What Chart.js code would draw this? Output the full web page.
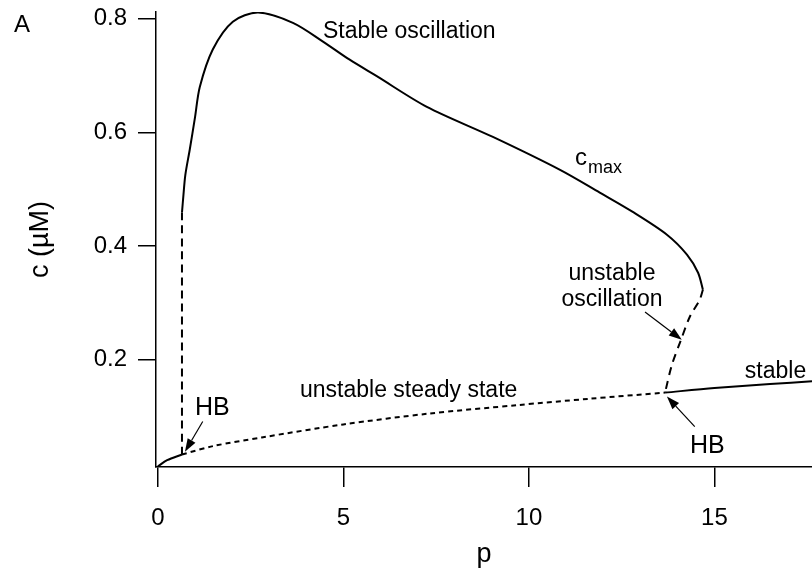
<!DOCTYPE html>
<html>
<head>
<meta charset="utf-8">
<script src="https://cdn.jsdelivr.net/npm/chart.js@4"></script>
<style>
  html, body { margin: 0; padding: 0; background: #fff; }
  #wrap { width: 812px; height: 571px; position: relative; }
</style>
</head>
<body>
<div id="wrap"><canvas id="chart"></canvas></div>
<script>
const FONT = "'Liberation Sans', Arial, Helvetica, sans-serif";

// bifurcation diagram, p on x, c (uM) on y
const lowStableP = [0, 0.25, 0.65];
const lowStableC = [0.012, 0.023, 0.033];

const unstableSteadyP = [0.65, 1.5, 2.8, 5, 7.3, 9.7, 11.6, 13.67];
const unstableSteadyC = [0.033, 0.048, 0.063, 0.086, 0.105, 0.120, 0.131, 0.142];

const highStableP = [13.67, 15, 16.5, 17.63];
const highStableC = [0.142, 0.150, 0.157, 0.162];

const hbJumpP = [0.65, 0.65];
const hbJumpC = [0.033, 0.459];

const cmaxP = [0.65, 0.69, 0.74, 0.86, 1.0, 1.13, 1.48, 2.02, 2.7, 3.64, 4.45, 5.17, 5.9, 7.25, 9.03, 10.84, 11.91, 12.8, 13.72, 14.26, 14.56, 14.69];
const cmaxC = [0.459, 0.49, 0.525, 0.57, 0.626, 0.68, 0.746, 0.795, 0.811, 0.793, 0.760, 0.728, 0.699, 0.645, 0.592, 0.534, 0.494, 0.460, 0.420, 0.385, 0.353, 0.323];

const unstableOscP = [14.69, 14.6, 14.34, 14.1, 13.85, 13.67];
const unstableOscC = [0.323, 0.305, 0.276, 0.235, 0.19, 0.142];

const xTicks = [0, 5, 10, 15];
const yTicks = [0.2, 0.4, 0.6, 0.8];

// text labels, anchored in data units (baseline)
const notes = [
  { text: 'Stable oscillation', p: 4.45, c: 0.767, align: 'left', size: 23 },
  { text: 'unstable', p: 12.24, c: 0.340, align: 'center', size: 23 },
  { text: 'oscillation', p: 12.24, c: 0.295, align: 'center', size: 23 },
  { text: 'unstable steady state', p: 3.83, c: 0.135, align: 'left', size: 23 },
  { text: 'stable', p: 15.82, c: 0.168, align: 'left', size: 23 },
  { text: 'HB', p: 1.0, c: 0.103, align: 'left', size: 25 },
  { text: 'HB', p: 14.34, c: 0.036, align: 'left', size: 25 },
];

// arrows: tail -> tip
const arrows = [
  [1.21, 0.091, 0.73, 0.038],
  [13.13, 0.284, 14.12, 0.235],
  [14.47, 0.082, 13.72, 0.135],
];

const toXY = (ps, cs) => ps.map((p, i) => ({ x: p, y: cs[i] }));

const line = (ps, cs, dash, width = 2) => ({
  data: toXY(ps, cs),
  showLine: true,
  borderColor: '#000',
  borderWidth: width,
  borderDash: dash,
  pointRadius: 0,
  tension: 0.3,
  fill: false,
});

function drawArrow(ctx, x1, y1, x2, y2) {
  const a = Math.atan2(y2 - y1, x2 - x1);
  const len = 13, half = 4.5;
  const bx = x2 - len * Math.cos(a), by = y2 - len * Math.sin(a);
  ctx.beginPath();
  ctx.moveTo(x1, y1);
  ctx.lineTo(bx, by);
  ctx.stroke();
  ctx.beginPath();
  ctx.moveTo(x2, y2);
  ctx.lineTo(bx + half * Math.sin(a), by - half * Math.cos(a));
  ctx.lineTo(bx - half * Math.sin(a), by + half * Math.cos(a));
  ctx.closePath();
  ctx.fill();
}

const annotate = {
  id: 'annotate',
  afterDatasetsDraw(chart) {
    const { ctx, scales: { x, y } } = chart;
    ctx.save();
    ctx.fillStyle = '#000';
    ctx.strokeStyle = '#000';
    ctx.lineWidth = 1.2;
    ctx.textBaseline = 'alphabetic';

    notes.forEach((n) => {
      ctx.font = `${n.size}px ${FONT}`;
      ctx.textAlign = n.align;
      ctx.fillText(n.text, x.getPixelForValue(n.p), y.getPixelForValue(n.c));
    });

    // c_max with subscript
    const cx = x.getPixelForValue(11.24), cy = y.getPixelForValue(0.543);
    ctx.textAlign = 'left';
    ctx.font = `24px ${FONT}`;
    ctx.fillText('c', cx, cy);
    const w = ctx.measureText('c').width;
    ctx.font = `18px ${FONT}`;
    ctx.fillText('max', cx + w + 1, cy + 8);

    // panel letter
    ctx.font = `24px ${FONT}`;
    ctx.fillText('A', 14, 32);

    arrows.forEach(([p1, c1, p2, c2]) => {
      drawArrow(ctx, x.getPixelForValue(p1), y.getPixelForValue(c1), x.getPixelForValue(p2), y.getPixelForValue(c2));
    });
    ctx.restore();
  },
};

const tickFont = { size: 24, family: FONT };
const titleFont = { size: 27, family: FONT };

new Chart(document.getElementById('chart'), {
  type: 'scatter',
  data: {
    datasets: [
      line(lowStableP, lowStableC, []),
      line(unstableSteadyP, unstableSteadyC, [5, 4]),
      line(highStableP, highStableC, []),
      line(hbJumpP, hbJumpC, [8, 5]),
      line(cmaxP, cmaxC, []),
      line(unstableOscP, unstableOscC, [8, 6]),
    ],
  },
  options: {
    responsive: true,
    maintainAspectRatio: false,
    animation: false,
    layout: { padding: { top: 12, right: 0, left: 0, bottom: 0 } },
    plugins: { legend: { display: false }, tooltip: { enabled: false } },
    scales: {
      x: {
        type: 'linear',
        min: -0.05,
        max: 17.63,
        afterBuildTicks: (s) => { s.ticks = xTicks.map((v) => ({ value: v })); },
        afterFit: (s) => { s.height = 104; s.paddingLeft = 0; s.paddingRight = 0; },
        ticks: { color: '#000', font: tickFont, padding: 17, maxRotation: 0 },
        grid: { drawOnChartArea: false, drawTicks: true, tickLength: 20, color: '#000', lineWidth: 1.5 },
        border: { color: '#000', width: 1.5 },
        title: { display: true, text: 'p', color: '#000', font: titleFont, padding: { top: 0, bottom: 0 } },
      },
      y: {
        type: 'linear',
        min: 0.011,
        max: 0.812,
        afterBuildTicks: (s) => { s.ticks = yTicks.map((v) => ({ value: v })); },
        afterFit: (s) => { s.width = 156; s.paddingTop = 0; s.paddingBottom = 0; },
        ticks: { color: '#000', font: tickFont, padding: 11 },
        grid: { drawOnChartArea: false, drawTicks: true, tickLength: 18, color: '#000', lineWidth: 1.5 },
        border: { color: '#000', width: 1.5 },
        title: { display: true, text: 'c (µM)', color: '#000', font: titleFont, padding: { top: 24, bottom: 0 } },
      },
    },
  },
  plugins: [annotate],
});
</script>
</body>
</html>
